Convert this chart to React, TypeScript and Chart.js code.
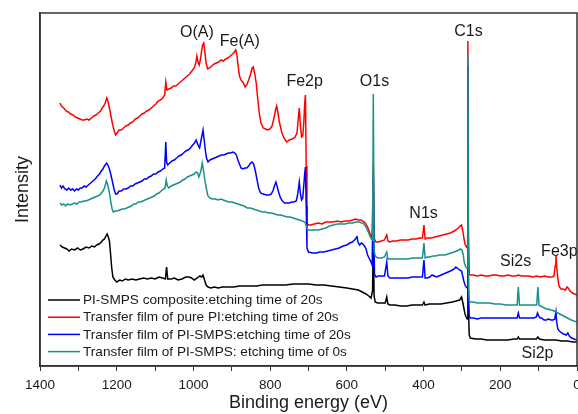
import React, { useEffect, useRef } from "react";
import { Chart, registerables } from "chart.js";

Chart.register(...registerables);

// ---------- data (binding energy in eV, intensity in arbitrary units) ----------
const seriesLabels = [
  "PI-SMPS composite:etching time of 20s",
  "Transfer film of pure PI:etching time of 20s",
  "Transfer film of PI-SMPS:etching time of 20s",
  "Transfer film of PI-SMPS: etching time of 0s",
];
const seriesColors = ["#000000", "#ff0000", "#0000ff", "#1a9088"];

const composite20s: number[][] = [
  [1348,121],[1342,119],[1336,118],[1330,117],[1324,115],[1318,117],[1310,116],[1302,118],[1295,116],[1288,117],
  [1280,119],[1272,118],[1265,120],[1258,119],[1252,121],[1246,122],[1240,124],[1236,126],[1232,127],[1228,130],
  [1225,132],[1222,129],[1219,125],[1216,112],[1213,98],[1210,89],[1205,86],[1200,84],[1192,86],[1185,85],
  [1178,87],[1170,86],[1160,87],[1150,86],[1140,87],[1130,88],[1120,87],[1110,88],[1100,87],[1090,89],
  [1080,88],[1073,87],[1070,99],[1067,87],[1058,87],[1050,88],[1040,86],[1030,87],[1020,89],[1012,89],
  [1005,88],[998,86],[990,88],[983,90],[978,89],[975,91],[971,86],[967,81],[962,79],[955,78],
  [945,79],[935,78],[925,79],[910,79],[895,79],[880,80],[865,80],[850,80],[835,80],[820,81],
  [800,81],[780,81],[760,81],[740,82],[720,82],[700,82],[680,81],[660,81],[640,80],[620,79],
  [600,78],[585,77],[570,76],[560,74],[550,72],[543,70],[537,68],[533,75],[531,136],[529,70],
  [526,64],[520,63],[510,63],[500,63],[496,69],[493,62],[488,61],[475,61],[460,60],[444,60],
  [430,61],[415,61],[403,61],[399,64],[396,61],[385,62],[370,62],[355,62],[340,63],[325,64],
  [315,65],[306,66],[301,69],[298,64],[295,58],[292,52],[289,49],[286,47],[284.5,216],[283,60],
  [281,31],[278,28],[265,27],[250,27],[235,26],[220,26],[200,26],[180,26],[165,27],[156,27],
  [153,29],[150,27],[135,27],[120,27],[106,27],[102,29],[98,27],[85,26],[70,26],[55,26],
  [40,25],[25,25],[10,24],[0,24],
];

const purePI20s: number[][] = [
  [1348,263],[1344,260],[1338,258],[1332,255],[1326,254],[1320,252],[1314,251],[1308,249],[1302,248],[1296,247],
  [1290,246],[1284,246],[1278,247],[1272,246],[1266,248],[1260,250],[1254,251],[1248,253],[1242,255],[1238,258],
  [1234,260],[1230,263],[1226,268],[1223,265],[1219,258],[1215,250],[1211,242],[1207,236],[1203,231],[1199,233],
  [1194,236],[1188,236],[1182,238],[1176,240],[1170,241],[1164,243],[1158,244],[1152,247],[1146,248],[1140,250],
  [1134,252],[1128,253],[1122,255],[1116,256],[1110,258],[1104,260],[1098,262],[1092,265],[1086,266],[1080,268],
  [1075,271],[1072,284],[1069,276],[1064,277],[1058,278],[1052,280],[1046,280],[1040,282],[1034,284],[1028,286],
  [1022,288],[1016,290],[1010,292],[1004,295],[998,298],[994,303],[991,310],[988,304],[985,301],[982,306],
  [979,314],[976,321],[973,323],[970,313],[967,303],[963,297],[958,298],[952,300],[946,302],[940,303],
  [934,304],[928,306],[922,305],[916,307],[910,308],[904,310],[898,312],[893,314],[890,316],[887,312],
  [884,302],[880,290],[876,286],[870,283],[865,279],[861,281],[856,286],[851,292],[847,298],[844,299],
  [840,292],[836,282],[832,266],[828,252],[824,243],[818,238],[812,237],[806,236],[800,237],[795,240],
  [790,248],[786,256],[783,260],[780,254],[776,244],[770,234],[764,228],[757,224],[750,226],[742,227],
  [735,229],[730,233],[727,246],[724,258],[721,240],[718,229],[715,230],[712,245],[710,262],[708,271],
  [706,200],[704,142],[700,141],[695,141],[685,142],[675,143],[665,142],[655,144],[645,144],[635,144],
  [625,145],[615,144],[605,145],[595,145],[585,146],[577,147],[570,146],[563,146],[558,145],[552,143],
  [546,139],[541,134],[537,130],[534,128],[531,201],[528,127],[524,124],[518,124],[510,125],[502,126],
  [496,131],[493,125],[488,124],[480,125],[470,125],[460,126],[450,126],[440,126],[430,127],[420,127],
  [410,128],[403,128],[399,141],[396,127],[390,128],[380,128],[370,129],[360,130],[350,131],[340,132],
  [330,133],[320,135],[312,137],[305,140],[301,141],[298,136],[295,128],[292,122],[288,119],[286,120],
  [284.5,325],[283,130],[281,92],[278,91],[270,91],[260,90],[250,91],[240,90],[230,90],[220,91],
  [210,91],[200,90],[190,90],[180,91],[170,90],[160,90],[153,91],[145,90],[135,90],[125,90],
  [115,89],[105,90],[95,89],[85,90],[75,89],[65,89],[60,90],[57,100],[55,111],[53,100],
  [50,88],[47,80],[42,77],[36,77],[30,76],[26,79],[23,78],[18,75],[12,73],[6,72],[0,71],
];

const smps20s: number[][] = [
  [1348,181],[1344,178],[1340,180],[1335,177],[1330,176],[1325,178],[1320,176],[1315,177],[1310,175],[1305,177],
  [1300,176],[1295,178],[1290,178],[1285,180],[1280,179],[1274,181],[1268,183],[1262,185],[1256,187],[1250,190],
  [1245,192],[1240,195],[1236,197],[1232,200],[1228,202],[1226,203],[1223,201],[1219,197],[1215,191],[1211,184],
  [1207,177],[1203,172],[1199,172],[1194,175],[1188,175],[1182,177],[1176,177],[1170,178],[1164,180],[1158,180],
  [1152,182],[1146,183],[1140,184],[1134,185],[1128,187],[1122,187],[1116,189],[1110,190],[1104,192],[1098,192],
  [1092,194],[1086,195],[1080,197],[1075,198],[1072,224],[1070,204],[1067,201],[1062,203],[1056,205],[1050,206],
  [1044,208],[1038,210],[1032,211],[1026,213],[1020,215],[1014,216],[1008,218],[1002,221],[997,223],[993,226],
  [990,223],[987,220],[984,218],[981,224],[978,230],[975,236],[972,226],[969,216],[966,208],[962,204],
  [957,206],[951,207],[945,208],[939,209],[933,210],[927,211],[921,211],[915,212],[909,213],[903,213],
  [897,214],[892,213],[888,211],[884,206],[880,202],[876,198],[871,197],[866,198],[861,198],[856,200],
  [851,203],[847,204],[843,202],[838,194],[834,186],[830,178],[825,173],[818,172],[810,171],[803,171],
  [797,172],[792,176],[788,181],[785,184],[782,180],[778,174],[773,168],[768,165],[762,163],[756,163],
  [750,163],[744,164],[738,164],[732,165],[729,170],[726,178],[724,184],[721,172],[718,166],[715,168],
  [712,182],[710,192],[708,199],[706,160],[704,118],[700,114],[690,113],[680,113],[670,114],[660,114],
  [650,115],[640,116],[630,117],[620,118],[610,120],[600,121],[592,123],[586,124],[580,126],[576,128],
  [574,130],[571,124],[567,121],[562,123],[558,122],[554,120],[550,117],[546,111],[541,107],[537,104],
  [534,101],[531,190],[528,92],[524,89],[518,90],[510,90],[502,90],[496,104],[493,90],[488,88],
  [480,88],[470,88],[460,88],[450,88],[440,88],[430,89],[420,89],[410,89],[403,89],[399,106],
  [396,88],[390,88],[384,89],[378,91],[372,90],[366,89],[360,90],[354,91],[348,92],[342,93],
  [336,94],[330,95],[325,96],[320,97],[316,99],[312,98],[306,96],[301,95],[298,90],[295,85],
  [292,81],[289,79],[286,78],[284.5,300],[283,70],[281,50],[278,48],[270,48],[260,47],[250,48],
  [240,48],[230,48],[220,48],[210,48],[200,48],[190,48],[180,48],[170,48],[160,48],[156,48],
  [153,53],[150,48],[140,48],[130,48],[120,48],[112,48],[106,49],[103,53],[100,50],[96,48],
  [92,48],[86,46],[80,46],[74,47],[68,46],[62,46],[58,47],[55,54],[53,44],[50,37],
  [46,35],[40,33],[35,32],[28,31],[24,33],[20,30],[14,28],[8,27],[0,26],
];

const smps0s: number[][] = [
  [1348,163],[1343,161],[1338,162],[1333,160],[1328,162],[1322,161],[1316,162],[1310,163],[1304,162],[1298,164],
  [1292,164],[1286,165],[1280,165],[1274,166],[1268,167],[1262,168],[1256,169],[1250,170],[1244,171],[1240,173],
  [1236,175],[1232,178],[1229,182],[1227,185],[1224,182],[1221,177],[1218,171],[1215,163],[1212,157],[1209,154],
  [1204,155],[1198,155],[1192,156],[1186,157],[1180,157],[1174,158],[1168,159],[1162,160],[1156,162],[1150,162],
  [1144,164],[1138,164],[1132,165],[1126,166],[1120,167],[1114,168],[1108,169],[1102,170],[1096,172],[1090,173],
  [1084,175],[1078,177],[1074,178],[1071,186],[1068,180],[1064,178],[1058,180],[1052,181],[1046,182],[1040,183],
  [1034,184],[1028,186],[1022,187],[1016,189],[1010,190],[1004,191],[998,192],[993,194],[989,193],[986,189],
  [983,192],[980,196],[977,203],[974,196],[971,188],[968,181],[965,175],[962,170],[957,168],[950,167],
  [943,167],[936,166],[929,167],[922,166],[915,165],[908,164],[900,164],[892,163],[884,162],[876,161],
  [868,160],[860,158],[852,158],[844,157],[836,156],[828,155],[820,154],[812,154],[804,153],[796,153],
  [788,152],[780,151],[772,151],[764,150],[756,149],[748,149],[740,148],[732,147],[724,146],[716,145],
  [710,144],[707,142],[705,139],[702,136],[695,136],[685,136],[675,136],[665,137],[655,138],[645,140],
  [635,141],[625,142],[615,142],[605,142],[595,143],[585,143],[575,144],[567,144],[562,143],[557,143],
  [552,140],[548,137],[544,134],[540,130],[536,127],[533,126],[531,272],[529,115],[526,110],[520,108],
  [510,108],[502,109],[496,114],[493,107],[488,107],[480,107],[470,107],[460,107],[450,107],[440,107],
  [430,108],[420,108],[410,108],[403,108],[399,123],[396,108],[390,109],[384,109],[376,110],[368,110],
  [360,111],[352,111],[344,111],[336,112],[328,113],[320,114],[314,115],[308,116],[304,117],[300,116],
  [297,112],[294,104],[291,100],[288,98],[286,98],[284.5,313],[283,80],[281,65],[278,64],[270,64],
  [260,63],[250,63],[240,63],[228,63],[215,62],[200,62],[185,61],[170,61],[160,61],[156,61],
  [153,79],[150,61],[140,61],[130,61],[120,61],[110,61],[105,61],[102,79],[99,61],[95,60],
  [90,59],[85,58],[80,57],[75,57],[70,56],[65,56],[60,55],[55,54],[50,53],[45,52],
  [40,51],[35,50],[30,49],[25,48],[20,47],[15,46],[8,45],[0,44],
];

const seriesData = [composite20s, purePI20s, smps20s, smps0s];
// drawing order: teal on top, then blue, red, black
const seriesOrder = [3, 2, 1, 0];

const peakNames = ["O(A)", "Fe(A)", "Fe2p", "O1s", "C1s", "N1s", "Si2s", "Fe3p", "Si2p"];
const peakEnergies = [991, 879, 710, 528, 283, 400, 160, 46, 103];
const peakLabelHeights = [333, 324, 284, 284, 334, 152, 104, 114, 12];

const xMin = 0;
const xMax = 1400;
const xStep = 100;
const xLabelStep = 200;
const yMin = 0;
const yMax = 353;

const FONT = '"Liberation Sans", Arial, Helvetica, sans-serif';
const CANVAS_W = 600;
const CANVAS_H = 414;

export default function App() {
  const ref = useRef<HTMLCanvasElement>(null);

  useEffect(() => {
    document.body.style.margin = "0";
    const canvas = ref.current;
    if (!canvas) return;
    Chart.defaults.font.family = FONT;

    const decor = {
      id: "decor",
      afterDatasetsDraw(chart: any) {
        const { ctx, chartArea, scales } = chart;
        ctx.save();
        // peak annotations
        ctx.fillStyle = "#1a1a1a";
        ctx.font = `16px ${FONT}`;
        ctx.textAlign = "center";
        ctx.textBaseline = "middle";
        peakNames.forEach((name, i) => {
          ctx.fillText(
            name,
            scales.x.getPixelForValue(peakEnergies[i]),
            scales.y.getPixelForValue(peakLabelHeights[i])
          );
        });
        // legend (inside, bottom-left)
        ctx.font = `13.6px ${FONT}`;
        ctx.textAlign = "left";
        const lx = chartArea.left + 8;
        const ly0 = chartArea.bottom - 66;
        seriesLabels.forEach((label, i) => {
          const y = ly0 + i * 17.2;
          ctx.strokeStyle = seriesColors[i];
          ctx.lineWidth = 1.5;
          ctx.beginPath();
          ctx.moveTo(lx, y);
          ctx.lineTo(lx + 32, y);
          ctx.stroke();
          ctx.fillStyle = "#1a1a1a";
          ctx.fillText(label, lx + 35, y + 0.5);
        });
        // frame
        ctx.strokeStyle = "#333";
        ctx.lineWidth = 1.5;
        ctx.strokeRect(
          chartArea.left,
          chartArea.top,
          chartArea.right - chartArea.left,
          chartArea.bottom - chartArea.top
        );
        ctx.restore();
      },
    };

    const chart = new Chart(canvas, {
      type: "line",
      data: {
        datasets: seriesData.map((pts, i) => ({
          label: seriesLabels[i],
          data: pts.map(([e, v]) => ({ x: e, y: v })),
          borderColor: seriesColors[i],
          backgroundColor: seriesColors[i],
          borderWidth: 1.5,
          pointRadius: 0,
          tension: 0,
          order: seriesOrder[i],
        })),
      },
      options: {
        responsive: false,
        animation: false,
        layout: { padding: { left: 0, right: CANVAS_W - 577, top: 13, bottom: 0 } },
        plugins: {
          legend: { display: false },
          tooltip: { enabled: false },
        },
        scales: {
          x: {
            type: "linear",
            reverse: true,
            min: xMin,
            max: xMax,
            afterFit: (s: any) => {
              s.height = 48;
            },
            ticks: {
              stepSize: xStep,
              autoSkip: false,
              maxRotation: 0,
              padding: 6,
              color: "#1a1a1a",
              font: { size: 13.5 },
              callback: (v: any) => (Number(v) % xLabelStep === 0 ? String(v) : ""),
            },
            grid: {
              display: true,
              drawOnChartArea: false,
              drawTicks: true,
              tickLength: 5,
              color: "#333",
              lineWidth: 1,
            },
            border: { display: true, color: "#333", width: 1.5 },
            title: {
              display: true,
              text: "Binding energy (eV)",
              color: "#1a1a1a",
              font: { size: 18 },
              padding: { top: 0, bottom: 0 },
            },
          },
          y: {
            type: "linear",
            min: yMin,
            max: yMax,
            afterFit: (s: any) => {
              s.width = 40;
            },
            ticks: { display: false },
            grid: { display: false },
            border: { display: true, color: "#333", width: 1.5 },
            title: {
              display: true,
              text: "Intensity",
              color: "#1a1a1a",
              font: { size: 18 },
              padding: { top: 12, bottom: 0 },
            },
          },
        },
      },
      plugins: [decor],
    });

    return () => chart.destroy();
  }, []);

  return (
    <div style={{ width: 578, height: 414, background: "#fff", position: "relative", overflow: "hidden" }}>
      <canvas ref={ref} width={CANVAS_W} height={CANVAS_H} style={{ display: "block" }} />
    </div>
  );
}
